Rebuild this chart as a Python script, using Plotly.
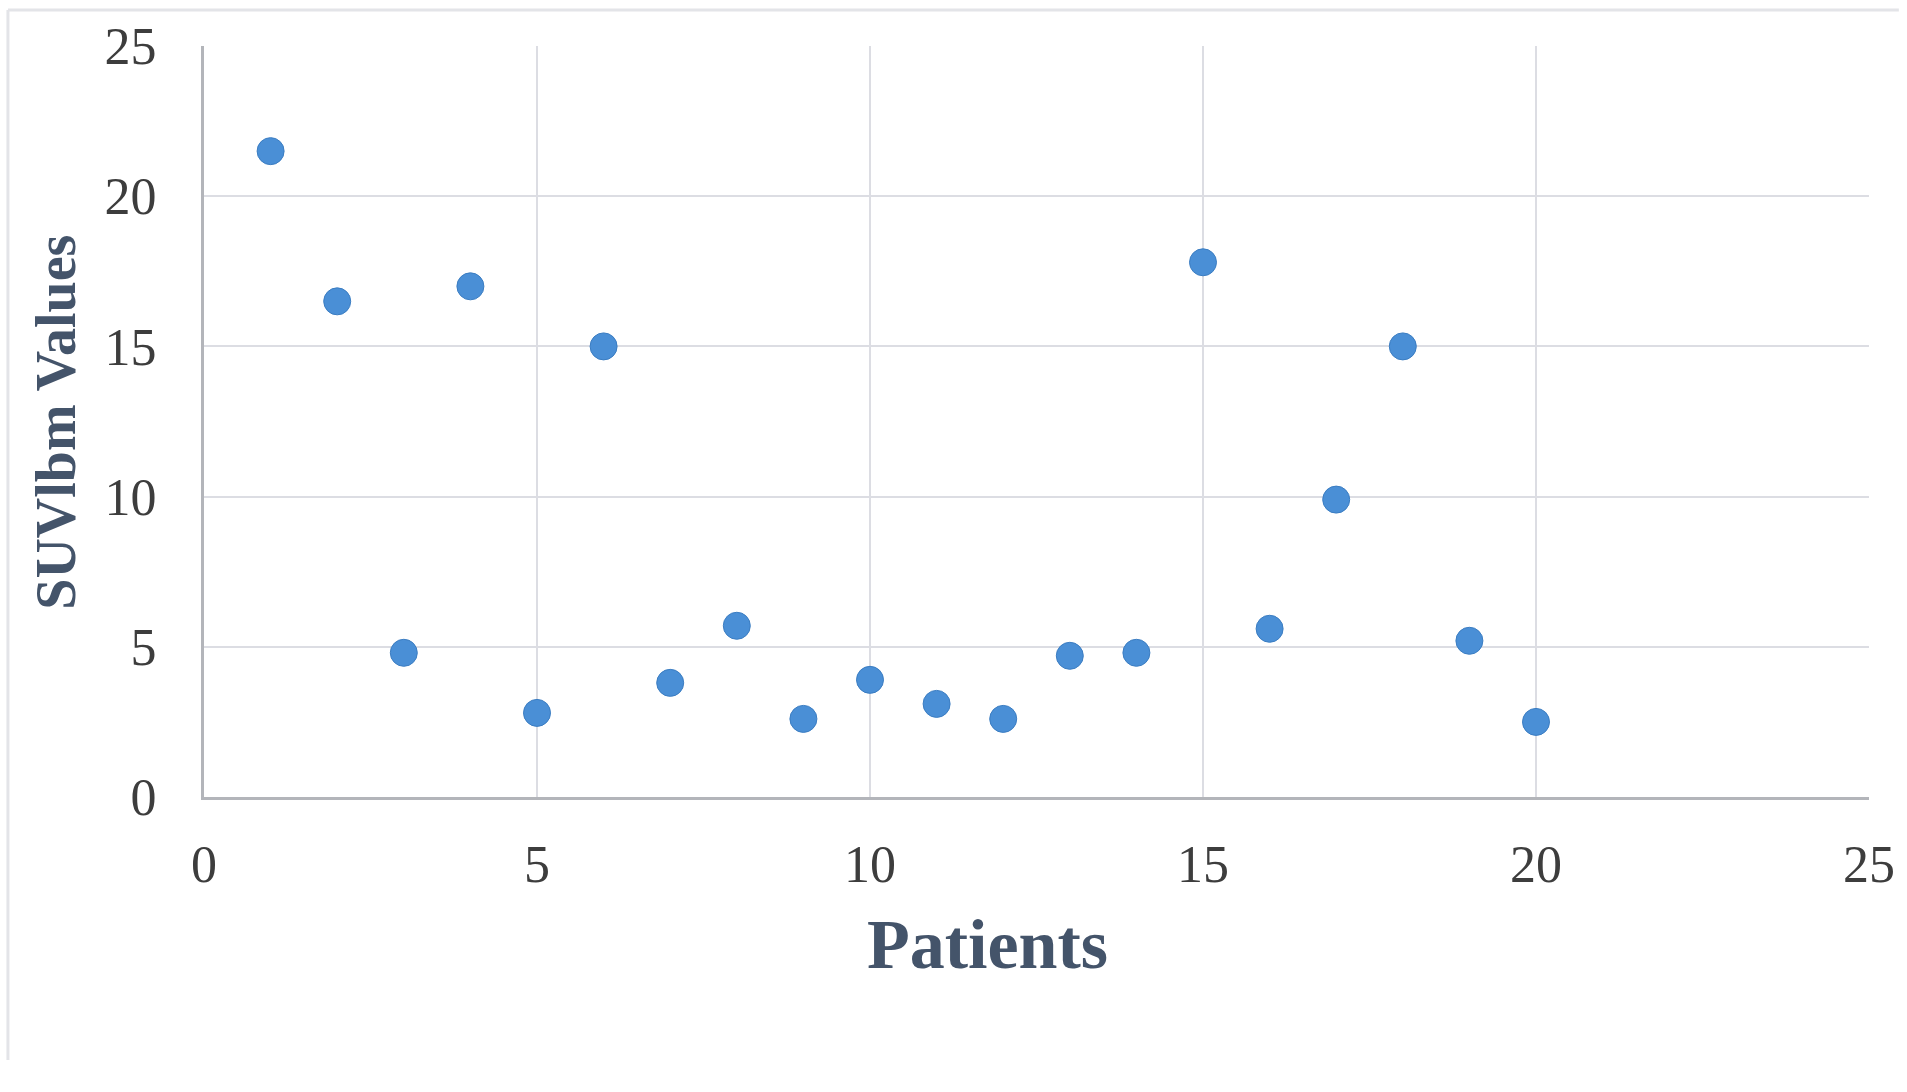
import plotly.graph_objects as go

patients = list(range(1, 21))
suvlbm = [21.5, 16.5, 4.8, 17.0, 2.8, 15.0, 3.8, 5.7, 2.6, 3.9,
          3.1, 2.6, 4.7, 4.8, 17.8, 5.6, 9.9, 15.0, 5.2, 2.5]
x_ticks = [0, 5, 10, 15, 20, 25]
y_ticks = [0, 5, 10, 15, 20, 25]

W, H = 1907, 1092
L, R, T, B = 204, 30, 46, 295
pw, ph = W - L - R, H - T - B

def px(xp):
    return (xp - L) / pw

def py(yp):
    return (H - B - yp) / ph

fig = go.Figure()
fig.add_trace(go.Scatter(
    x=patients, y=suvlbm, mode="markers",
    marker=dict(size=27, color="#4a8fd6", line=dict(width=1, color="#3b7dc2")),
    showlegend=False,
))

tick_font = dict(family="Liberation Serif, serif", size=52, color="#3d3d3d")
title_font = dict(family="Liberation Serif, serif", size=70, color="#44546a")

fig.update_layout(
    width=W, height=H,
    margin=dict(l=L, r=R, t=T, b=B, pad=0),
    paper_bgcolor="white", plot_bgcolor="white",
    xaxis=dict(range=[0, 25], tickvals=x_ticks, ticktext=[str(v) for v in x_ticks],
               showgrid=True, gridcolor="#dcdde3", gridwidth=2,
               showline=True, linecolor="#b3b5ba", linewidth=3,
               zeroline=False, tickfont=tick_font, ticks="", ticklabelstandoff=20,
               ticklabeloverflow="allow", fixedrange=True),
    yaxis=dict(range=[0, 25], tickvals=y_ticks, ticktext=[str(v) for v in y_ticks],
               showgrid=True, gridcolor="#dcdde3", gridwidth=2,
               showline=True, linecolor="#b3b5ba", linewidth=3,
               zeroline=False, tickfont=tick_font, ticks="", ticklabelstandoff=34,
               ticklabeloverflow="allow", fixedrange=True),
    annotations=[
        dict(text="<b>Patients</b>", xref="paper", yref="paper",
             x=px(991), y=py(944), showarrow=False, font=title_font,
             xanchor="center", yanchor="middle"),
        dict(text="<b>SUVlbm Values</b>", xref="paper", yref="paper",
             x=px(55), y=py(422), showarrow=False, font=dict(title_font, size=56),
             textangle=-90, xanchor="center", yanchor="middle"),
    ],
    shapes=[
        dict(type="line", xref="paper", yref="paper",
             x0=px(7), x1=px(1907), y0=py(10), y1=py(10),
             line=dict(color="#e3e4e8", width=3)),
        dict(type="line", xref="paper", yref="paper",
             x0=px(7), x1=px(7), y0=py(10), y1=py(1060),
             line=dict(color="#e3e4e8", width=3)),
    ],
)

fig.write_html("out.html", config={"displayModeBar": False},
               post_script="document.body.style.margin='0';")
